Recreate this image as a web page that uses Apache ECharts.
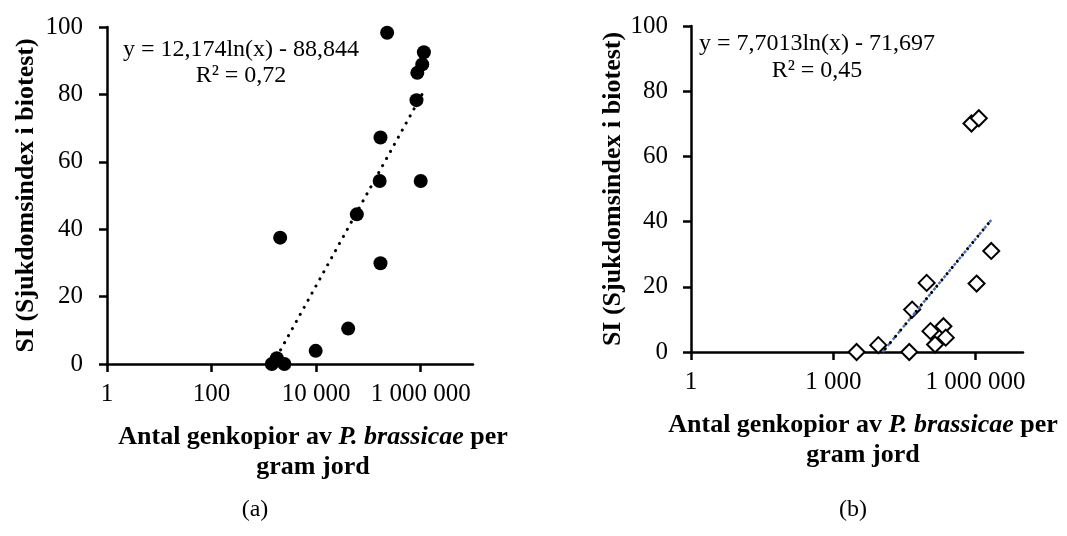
<!DOCTYPE html>
<html>
<head>
<meta charset="utf-8">
<script src="https://cdn.jsdelivr.net/npm/echarts@6/dist/echarts.min.js"></script>
<style>
  body{ margin:0; background:#fff; }
  #main{ width:1067px; height:536px; }
</style>
</head>
<body>
<div id="main"></div>
<script>
  // (a) genkopior per gram jord vs SI
  var xA = [228000, 1150000, 1070000, 860000, 830000, 170000, 164000, 1000000, 60000, 2050, 170000, 41000, 9800, 1770, 1420, 2470]
  var yA = [98.3, 92.5, 88.9, 86.4, 78.3, 67.2, 54.3, 54.3, 44.4, 37.5, 29.9, 10.5, 3.9, 1.7, 0, 0]
  // (b)
  var xB = [3100, 8900, 40000, 46000, 93000, 112000, 140000, 210000, 235000, 820000, 1170000, 1050000, 2140000]
  var yB = [0, 2.1, 0, 13.0, 21.2, 6.4, 2.3, 7.9, 4.4, 70.1, 71.7, 21.0, 31.0]
  // trendlinjer, ändpunkter avlästa
  var trendAx = [1480, 1150000]
  var trendAy = [0, 81]
  var trendBx = [11000, 2140000]
  var trendBy = [0, 40.5]
  var yTicks = [0, 20, 40, 60, 80, 100]
  var eqA = ['y = 12,174ln(x) - 88,844', 'R² = 0,72']
  var eqB = ['y = 7,7013ln(x) - 71,697', 'R² = 0,45']
  var xTitle = '{b|Antal genkopior av }{i|P. brassicae}{b| per}\n{b|gram jord}'
  var yTitle = 'SI (Sjukdomsindex i biotest)'

  var serif = '"Times New Roman", "Liberation Serif", serif'

  function pairs(xs, ys){
    var out = []
    for(let i = 0;i<xs.length;i++){
      out[i] = [xs[i], ys[i]]
    }
    return out
  }

  function fmt(v){
    if(v > 5000000) return ''
    return String(Math.round(v)).replace(/\B(?=(\d{3})+(?!\d))/g, ' ')
  }

  function xAxisOf(gridIndex, base, pad){
    return {
      gridIndex: gridIndex,
      type: 'log',
      logBase: base,
      min: 1,
      max: 10000000,
      splitLine: { show: false },
      axisLine: { show: true, onZero: false, lineStyle: { color: '#000', width: 2.5 } },
      axisTick: { show: true, length: 8, lineStyle: { color: '#000', width: 2.5 } },
      axisLabel: { formatter: fmt, color: '#000', fontFamily: serif, fontSize: 25, margin: 18, showMaxLabel: false },
      name: xTitle,
      nameLocation: 'middle',
      nameGap: 58,
      nameTextStyle: {
        color: '#000',
        padding: pad,
        lineHeight: 30,
        rich: {
          b: { fontFamily: serif, fontWeight: 'bold', fontSize: 26, color: '#000', lineHeight: 30 },
          i: { fontFamily: serif, fontWeight: 'bold', fontStyle: 'italic', fontSize: 26, color: '#000', lineHeight: 30 }
        }
      }
    }
  }

  function yAxisOf(gridIndex, gap, margin){
    return {
      gridIndex: gridIndex,
      type: 'value',
      min: yTicks[0],
      max: yTicks[yTicks.length - 1],
      interval: yTicks[1] - yTicks[0],
      splitLine: { show: false },
      axisLine: { show: true, lineStyle: { color: '#000', width: 2.5 } },
      axisTick: { show: true, length: 8, lineStyle: { color: '#000', width: 2.5 } },
      axisLabel: { color: '#000', fontFamily: serif, fontSize: 25, margin: margin },
      name: yTitle,
      nameLocation: 'middle',
      nameRotate: 90,
      nameGap: gap,
      nameTextStyle: { color: '#000', fontFamily: serif, fontWeight: 'bold', fontSize: 26 }
    }
  }

  function textAt(x, y, s, size){
    return {
      type: 'text',
      x: x,
      y: y,
      style: { text: s, fill: '#000', font: size + 'px ' + serif, textAlign: 'center', verticalAlign: 'middle' }
    }
  }

  var chartDom = document.getElementById('main');
  var myChart = echarts.init(chartDom);
  var option;
  option = {
    animation: false,
    backgroundColor: '#fff',
    grid: [
      { left: 107, top: 27, width: 366, height: 337 },
      { left: 691, top: 26, width: 332, height: 326 }
    ],
    xAxis: [ xAxisOf(0, 100, [0, 0, 0, 46]), xAxisOf(1, 1000, [0, 0, 0, 12]) ],
    yAxis: [ yAxisOf(0, 68, 24), yAxisOf(1, 65, 23) ],
    graphic: [
      textAt(241, 50, eqA[0], 24),
      textAt(241, 76, eqA[1], 24),
      textAt(817, 44, eqB[0], 24),
      textAt(817, 71, eqB[1], 24),
      textAt(255, 510, '(a)', 24),
      textAt(853, 510, '(b)', 24)
    ],
    series: [
      {
        type: 'scatter',
        xAxisIndex: 0, yAxisIndex: 0,
        symbol: 'circle',
        symbolSize: 14,
        itemStyle: { color: '#000', opacity: 1 },
        data: pairs(xA, yA)
      },
      {
        type: 'line',
        xAxisIndex: 0, yAxisIndex: 0,
        showSymbol: false,
        z: 3,
        lineStyle: { color: '#000', width: 3, type: [0.1, 8], cap: 'round' },
        data: pairs(trendAx, trendAy)
      },
      {
        type: 'scatter',
        xAxisIndex: 1, yAxisIndex: 1,
        symbol: 'diamond',
        symbolSize: 16,
        itemStyle: { color: '#fff', borderColor: '#000', borderWidth: 2, opacity: 1 },
        data: pairs(xB, yB)
      },
      {
        type: 'line',
        xAxisIndex: 1, yAxisIndex: 1,
        showSymbol: false,
        z: 3,
        lineStyle: { color: '#4472c4', width: 2.5, type: [3, 5] },
        data: pairs(trendBx, trendBy)
      },
      {
        type: 'line',
        xAxisIndex: 1, yAxisIndex: 1,
        showSymbol: false,
        z: 4,
        lineStyle: { color: '#000', width: 3, type: [0.1, 8], dashOffset: 4, cap: 'round' },
        data: pairs(trendBx, trendBy)
      }
    ]
  };
  option && myChart.setOption(option);
</script>
</body>
</html>
